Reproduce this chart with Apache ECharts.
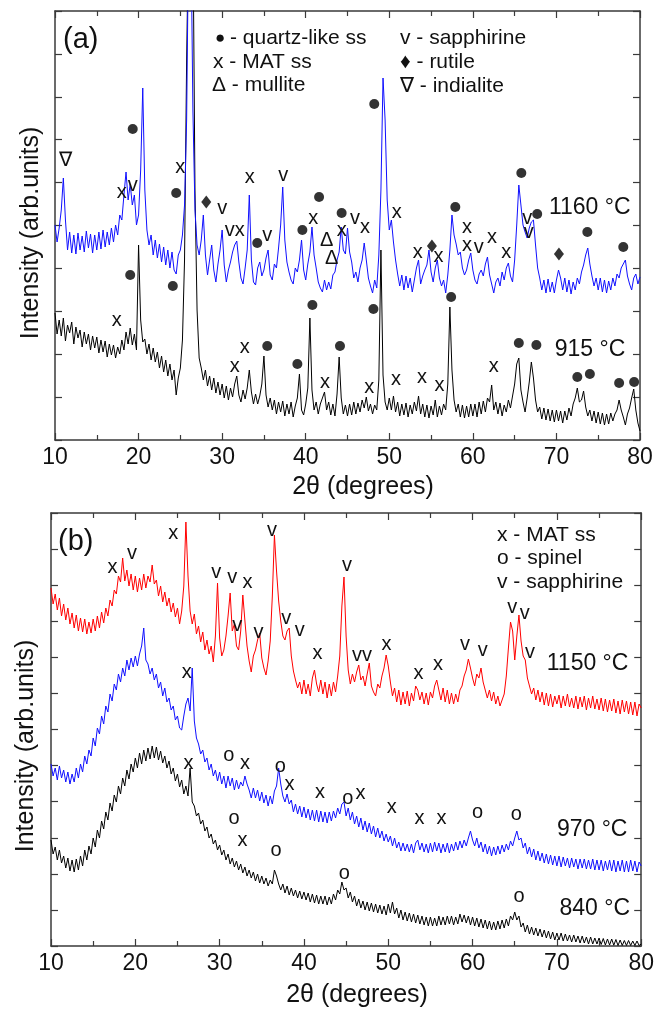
<!DOCTYPE html>
<html><head><meta charset="utf-8">
<script src="https://cdn.jsdelivr.net/npm/echarts@6/dist/echarts.min.js"></script>
<style>html,body{margin:0;padding:0;background:#fff}#c{width:657px;height:1010px}</style>
</head><body><div id="c"></div>
<script>
// ---------- axis ranges ----------
const X_MIN = 10, X_MAX = 80, X_STEP = 10;          // 2θ tick labels 10..80
const Y_MAX_A = 4290, Y_DIV_A = 10;                 // panel (a) intensity (arb.)
const Y_MAX_B = 4330, Y_DIV_B = 12;                 // panel (b) intensity (arb.)

const SCAN_START = 10, SCAN_STEP = 0.25;

// panel (a), 915 °C
const scan915 = [
1270,1060,1200,1040,1220,990,1150,1070,1180,960,1130,1020,1100,930,1080,960,1060,900,1040,920,
1030,870,1000,880,990,830,960,850,950,820,930,860,1000,900,1080,960,1120,950,1060,900,
1950,1200,980,1010,860,960,800,920,780,880,720,840,680,800,640,760,600,700,450,620,
720,1000,1800,3800,5200,5200,5200,2500,1300,820,720,600,700,540,640,500,620,470,580,450,
560,420,540,400,520,430,560,640,450,380,500,410,520,700,480,360,460,360,440,560,
840,450,330,420,300,400,260,380,280,390,240,360,260,380,230,340,420,660,300,250,
360,520,1220,500,300,380,260,360,420,480,300,380,250,360,240,460,830,420,260,350,
240,360,250,380,260,370,280,400,320,430,290,360,260,350,300,600,1900,650,380,300,
420,300,440,280,380,240,360,250,370,230,350,260,380,290,440,260,360,230,350,220,
340,250,400,230,340,250,360,300,560,1330,700,400,280,360,230,350,220,340,230,360,
240,360,230,380,260,390,280,420,380,550,300,380,260,370,240,350,280,400,320,440,
560,760,820,500,380,280,420,580,780,620,400,280,330,210,320,200,310,190,300,180,
300,190,290,170,290,200,320,240,360,420,520,380,400,490,330,240,300,190,290,170,
280,160,270,150,260,160,270,190,260,300,400,300,230,150,260,320,420,510,300,170,90];

// panel (a), 1160 °C
const scan1160 = [
2150,1980,2120,2300,2620,2200,1900,2080,1870,2050,1860,2070,1900,2040,1880,2090,1920,2060,1870,2050,
1900,2080,1910,2100,1930,2080,1950,2120,1980,2150,2050,2250,2200,2450,2680,2400,2560,2350,2450,2150,
2250,2700,3520,2500,2100,1950,2050,1850,2000,1820,1960,1780,1930,1750,1900,1720,1880,1700,1660,1850,
1900,2050,2350,3200,5200,5200,3300,2300,1950,1850,2000,2250,1850,1650,1800,1950,1700,1580,1760,1900,
2100,1750,1580,1700,1780,1880,1950,1990,1780,1620,1560,1720,1900,2450,1800,1580,1550,1720,1780,1640,
1700,1820,1900,1650,1600,1760,1720,1920,2150,2530,2000,1780,1680,1600,1560,1720,1680,1800,2000,1700,
1600,1760,1880,2130,1850,1720,1580,1520,1480,1600,1500,1580,1510,1650,1680,1800,1880,2130,1900,1860,
2120,1880,1780,1620,1680,1580,1720,1800,1970,1800,1620,1540,1470,1600,1520,1850,2500,3620,3200,2400,
2100,2200,1980,1800,1660,1540,1650,1500,1640,1520,1620,1480,1600,1720,1800,1560,1640,1700,1750,1900,
1680,1580,1720,1800,1620,1540,1600,1470,1650,1900,2250,2050,1960,1850,1880,1720,1650,1700,1800,1870,
1700,1600,1560,1660,1700,1640,1760,1830,1650,1560,1470,1580,1620,1540,1680,1600,1720,1770,1640,1580,
1800,2150,2550,2350,2150,2080,2020,2120,2180,2200,1950,1720,1620,1500,1600,1470,1610,1480,1580,1470,
1600,1700,1620,1500,1620,1480,1600,1460,1580,1500,1620,1560,1680,1750,1850,1920,1760,1640,1540,1620,
1500,1620,1480,1600,1470,1590,1500,1620,1540,1660,1620,1720,1760,1800,1640,1560,1500,1620,1660,1560,1630];

// panel (b), 1150 °C
const scan1150 = [
3580,3420,3520,3360,3480,3300,3420,3260,3380,3220,3330,3180,3310,3150,3280,3140,3270,3120,3240,3130,
3270,3150,3300,3180,3340,3230,3380,3300,3460,3400,3560,3520,3700,3640,3880,3650,3760,3600,3720,3560,
3700,3540,3680,3560,3720,3580,3700,3640,3810,3620,3660,3500,3600,3440,3540,3400,3480,3340,3430,3290,
3380,3220,3350,3600,4240,3700,3350,3220,3320,3120,3200,3040,3140,2960,3060,2920,3000,2840,3100,3630,
3080,2900,2960,3100,3300,3530,3150,3220,3000,2960,3150,3510,3250,3000,2850,2740,2900,2960,3060,3130,
2880,2780,2710,2850,3050,3500,4110,3750,3450,3250,3100,3060,3150,3180,2900,2750,2660,2580,2640,2520,
2660,2520,2620,2500,2680,2760,2620,2540,2660,2520,2640,2480,2620,2500,2640,2540,2700,2900,3400,3690,
3100,2760,2620,2720,2640,2740,2810,2660,2700,2600,2720,2830,2600,2540,2500,2620,2580,2700,2780,2910,
2800,2640,2500,2580,2440,2560,2410,2540,2420,2550,2400,2530,2450,2600,2560,2460,2540,2420,2530,2410,
2540,2480,2600,2660,2560,2460,2580,2440,2560,2420,2530,2420,2520,2440,2560,2600,2700,2760,2870,2780,
2680,2600,2720,2680,2780,2640,2560,2480,2560,2450,2540,2420,2500,2400,2460,2520,2700,2980,3240,3150,
2860,3100,3310,3050,2900,2860,2680,2600,2520,2580,2460,2560,2440,2540,2410,2530,2400,2520,2390,2500,
2420,2510,2380,2500,2400,2520,2390,2480,2380,2500,2370,2490,2390,2500,2360,2480,2380,2500,2370,2470,
2360,2480,2350,2470,2340,2460,2350,2470,2330,2450,2320,2460,2340,2450,2320,2440,2310,2440,2300,2420,2380];

// panel (b), 970 °C
const scan970 = [
1820,1700,1780,1660,1800,1680,1760,1640,1740,1620,1720,1640,1780,1680,1820,1740,1900,1820,1960,1900,
2080,2000,2180,2120,2300,2220,2400,2340,2520,2450,2620,2560,2720,2640,2780,2700,2860,2760,2880,2790,
2900,2800,2920,3000,3180,2860,2820,2720,2780,2660,2720,2580,2640,2500,2580,2440,2480,2360,2400,2260,
2300,2180,2160,2300,2420,2480,2350,2780,2250,2080,2020,1920,1960,1840,1880,1760,1820,1700,1760,1650,
1740,1620,1700,1580,1700,1600,1680,1560,1660,1570,1640,1600,1700,1620,1560,1480,1580,1480,1560,1450,
1540,1430,1510,1400,1500,1420,1550,1600,1780,1620,1500,1440,1520,1420,1460,1340,1420,1320,1400,1290,
1390,1280,1370,1260,1360,1250,1360,1240,1350,1240,1340,1230,1340,1250,1350,1280,1380,1320,1420,1440,
1300,1380,1260,1340,1220,1300,1190,1280,1160,1250,1140,1230,1120,1200,1090,1180,1080,1150,1050,1120,
1040,1100,1000,1080,980,1040,950,1030,950,1020,940,1020,930,1030,1060,960,1030,940,1020,930,
1030,940,1040,950,1030,930,1020,940,1030,930,1020,950,1040,960,1050,980,1060,1000,1080,1150,
1060,1000,1080,980,1040,940,1020,920,1000,900,990,910,1000,920,1010,940,1020,960,1050,1000,
1080,1150,1060,1080,980,1030,920,990,890,970,860,950,850,930,830,920,820,910,810,900,
800,900,790,890,800,880,780,880,790,870,770,870,780,870,770,860,770,870,760,860,
760,860,750,850,760,860,750,860,740,850,750,860,740,850,740,860,750,850,740,840,800];

// panel (b), 840 °C
const scan840 = [
1060,920,990,860,960,830,900,780,880,750,860,740,870,760,900,800,960,860,1000,920,
1080,990,1160,1080,1250,1170,1340,1260,1430,1350,1510,1440,1600,1520,1680,1600,1760,1670,1820,1740,
1880,1780,1930,1820,1960,1850,1980,1870,2000,1880,1990,1860,1950,1830,1900,1780,1850,1720,1780,1650,
1720,1590,1660,1520,1600,1500,1780,1440,1400,1300,1330,1220,1260,1150,1190,1080,1120,1020,1060,960,
1010,910,960,860,920,820,880,790,850,760,820,730,790,700,760,680,740,650,720,630,
700,620,680,600,660,620,760,700,620,560,620,530,600,510,580,500,560,480,550,470,
540,460,530,440,520,430,510,420,500,420,500,410,490,420,520,460,560,520,640,560,
580,480,540,440,500,400,470,380,450,360,440,350,430,340,420,330,410,320,400,310,
420,330,440,320,380,280,360,260,340,250,330,240,320,230,310,220,300,210,290,200,
290,200,280,200,300,210,290,210,300,220,300,210,290,220,320,240,310,230,300,210,
290,200,280,190,270,180,260,170,250,160,240,160,250,170,260,180,270,200,300,260,
340,260,300,190,230,140,210,120,190,110,180,100,170,90,160,80,150,70,140,60,
130,60,130,50,120,50,110,40,110,40,100,30,100,30,90,20,90,20,80,20,
80,15,75,10,70,10,70,8,65,5,60,5,55,5,55,5,50,5,50,5,20];

// ---------- phase marks: [2θ, intensity, mark] ----------
const notesA = [[11.3,2800,'∇'],[18.0,2480,'x'],[19.3,2550,'v'],[19.3,3110,'●'],[25.0,2730,'x'],[24.5,2470,'●'],[28.1,2380,'♦'],[30.0,2320,'v'],[31.5,2100,'vx'],[34.2,1970,'●'],[35.4,2050,'v'],[33.3,2630,'x'],[37.3,2650,'v'],[41.6,2430,'●'],[39.6,2100,'●'],[40.9,2220,'x'],[42.5,2000,'Δ'],[43.1,1820,'Δ'],[44.3,2270,'●'],[44.3,2100,'x'],[45.9,2220,'v'],[47.1,2130,'x'],[48.2,3360,'●'],[50.9,2280,'x'],[53.4,1880,'x'],[55.1,1940,'♦'],[55.9,1840,'x'],[57.9,2330,'●'],[59.3,2130,'x'],[59.3,1950,'x'],[60.7,1930,'v'],[62.3,2030,'x'],[64.0,1880,'x'],[65.8,2670,'●'],[66.5,2220,'v'],[66.7,2080,'v'],[67.7,2260,'●'],[70.3,1860,'♦'],[73.7,2080,'●'],[78.0,1930,'●'],
  [19.0,1650,'●'],[24.1,1540,'●'],[17.4,1200,'x'],[40.8,1350,'●'],[32.7,930,'x'],[31.5,740,'x'],[35.4,940,'●'],[39.0,760,'●'],[42.3,580,'x'],[44.1,940,'●'],[47.6,530,'x'],[48.1,1310,'●'],[50.8,610,'x'],[53.9,630,'x'],[56.0,550,'x'],[57.4,1430,'●'],[62.5,740,'x'],[65.5,970,'●'],[67.6,950,'●'],[72.5,630,'●'],[74.0,660,'●'],[77.5,570,'●'],[79.3,580,'●']];
const notesB = [[17.3,3790,'x'],[19.6,3930,'v'],[24.5,4130,'x'],[29.6,3740,'v'],[31.5,3690,'v'],[32.1,3210,'v'],[33.3,3640,'x'],[34.6,3140,'v'],[36.2,4160,'v'],[37.9,3280,'v'],[39.5,3160,'v'],[41.6,2930,'x'],[45.1,3810,'v'],[46.9,2910,'vv'],[49.8,3020,'x'],[53.6,2730,'x'],[55.9,2820,'x'],[59.1,3020,'v'],[61.2,2960,'v'],[64.7,3390,'v'],[66.2,3330,'v'],[66.8,2940,'v'],
  [26.1,2740,'x'],[31.1,1910,'o'],[33.0,1830,'x'],[37.2,1800,'o'],[38.3,1620,'x'],[41.9,1540,'x'],[45.2,1480,'o'],[46.7,1530,'x'],[50.4,1390,'x'],[53.7,1280,'x'],[56.3,1280,'x'],[60.6,1340,'o'],[65.2,1320,'o'],
  [26.3,1830,'x'],[31.7,1280,'o'],[32.7,1060,'x'],[36.7,960,'o'],[44.8,730,'o'],[65.5,500,'o']];
const tempA = [[69.1,2320,'1160 °C'],[69.8,900,'915 °C']];
const tempB = [[68.8,2820,'1150 °C'],[70.0,1160,'970 °C'],[70.3,370,'840 °C']];

// ---------- chart ----------
const FONT = '"Liberation Sans", Arial, sans-serif';
const INK = '#111111', AX = '#3a3a3a';
const pairs = arr => arr.map((v,i)=>[SCAN_START + i*SCAN_STEP, v]);

function xAx(g, pos){
  return {type:'value', gridIndex:g, position:pos, min:X_MIN, max:X_MAX, interval:X_STEP,
    axisLine:{show:true,onZero:false,lineStyle:{color:AX,width:1.5}},
    axisTick:{show:true,inside:true,length:7,lineStyle:{color:AX,width:1.2}},
    minorTick:{show:true,splitNumber:2,length:5,lineStyle:{color:AX,width:1.2}},
    splitLine:{show:false}, minorSplitLine:{show:false},
    axisLabel:{show:pos==='bottom',fontSize:23,color:INK,fontFamily:FONT,margin:6}};
}
function yAx(g, pos, max, div){
  return {type:'value', gridIndex:g, position:pos, min:0, max:max, interval:max/div,
    axisLine:{show:true,onZero:false,lineStyle:{color:AX,width:1.5}},
    axisTick:{show:true,inside:true,length:7,lineStyle:{color:AX,width:1.2}},
    splitLine:{show:false}, axisLabel:{show:false}};
}
function line(data, color, xi, yi, z){
  return {type:'line', data:pairs(data), xAxisIndex:xi, yAxisIndex:yi, symbol:'none', showSymbol:false,
    lineStyle:{color:color,width:1}, itemStyle:{color:color}, z:z, clip:true, silent:true, animation:false};
}
function textSeries(arr, xi, yi, size, align){
  const labels = arr.map(n=>n[2]);
  return {type:'custom', xAxisIndex:xi, yAxisIndex:yi, z:20, silent:true, animation:false, clip:false,
    data: arr.map(n=>[n[0],n[1]]), encode:{x:0,y:1},
    renderItem:(params, api)=>{
      const p = api.coord([api.value(0), api.value(1)]);
      return {type:'text', x:p[0], y:p[1], style:{text:labels[params.dataIndex], font:size+'px '+FONT, fill:INK,
        align:align, verticalAlign:'middle', textAlign:align, textVerticalAlign:'middle'}};
    }};
}
function notes(arr, xi, yi){
  const dots = arr.filter(n=>n[2]==='●').map(n=>[n[0],n[1]]);
  const dia = arr.filter(n=>n[2]==='♦').map(n=>[n[0],n[1]]);
  const other = arr.filter(n=>n[2]!=='●'&&n[2]!=='♦');
  return [
    {type:'scatter',xAxisIndex:xi,yAxisIndex:yi,data:dots,symbol:'circle',symbolSize:10,itemStyle:{color:'#000'},z:20,silent:true,animation:false},
    {type:'scatter',xAxisIndex:xi,yAxisIndex:yi,data:dia,symbol:'diamond',symbolSize:[10,13],itemStyle:{color:'#000'},z:20,silent:true,animation:false},
    textSeries(other, xi, yi, 20, 'center')
  ];
}
function txt(x,y,s,size,align,rot){
  return {type:'text',x:x,y:y,rotation:rot||0,z:30,silent:true,
    style:{text:s,font:size+'px '+FONT,fill:INK,align:align||'left',verticalAlign:'middle',textAlign:align||'left',textVerticalAlign:'middle'}};
}

const chart = echarts.init(document.getElementById('c'), null, {renderer:'canvas'});
chart.setOption({
  backgroundColor:'#fff', animation:false,
  grid:[{left:55,top:11,right:17,bottom:570},{left:51,top:513,right:13,bottom:64}],
  xAxis:[xAx(0,'bottom'),xAx(0,'top'),xAx(1,'bottom'),xAx(1,'top')],
  yAxis:[yAx(0,'left',Y_MAX_A,Y_DIV_A),yAx(0,'right',Y_MAX_A,Y_DIV_A),yAx(1,'left',Y_MAX_B,Y_DIV_B),yAx(1,'right',Y_MAX_B,Y_DIV_B)],
  series:[
    line(scan915,'#000000',0,0,2),
    line(scan1160,'#1010ff',0,0,3),
    line(scan840,'#000000',2,2,2),
    line(scan970,'#1010ff',2,2,3),
    line(scan1150,'#ff0000',2,2,4),
    ...notes(notesA,0,0), textSeries(tempA,0,0,23,'left'),
    ...notes(notesB,2,2), textSeries(tempB,2,2,23,'left')
  ],
  graphic:[
    txt(63,40,'(a)',29),
    txt(215,38,'●',17),
    txt(230,38,'- quartz-like ss',21),
    txt(213,62,'x - MAT ss',21),
    txt(212,85,'Δ - mullite',21),
    txt(400,38,'v - sapphirine',21),
    txt(400,62,'♦ - rutile',21),
    txt(400,86,'∇ - indialite',21),
    txt(58,542,'(b)',29),
    txt(497,535,'x - MAT ss',21),
    txt(497,558,'o - spinel',21),
    txt(497,582,'v - sapphirine',21),
    txt(363,487,'2θ (degrees)',25,'center'),
    txt(357,995,'2θ (degrees)',25,'center'),
    txt(31,233,'Intensity (arb.units)',25,'center',Math.PI/2),
    txt(26,746,'Intensity (arb.units)',25,'center',Math.PI/2)
  ]
});
</script></body></html>
